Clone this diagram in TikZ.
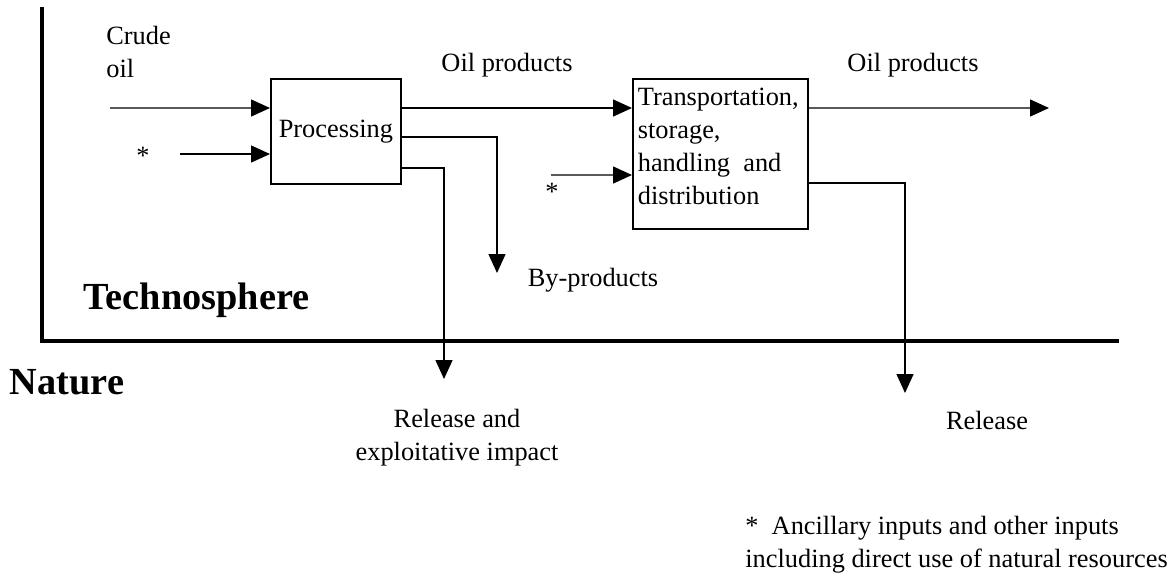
\documentclass[tikz,border=0pt]{standalone}
\usepackage{fontspec}
\setmainfont{Liberation Serif}
\usetikzlibrary{arrows.meta, positioning, calc}

\begin{document}
\begin{tikzpicture}[
  font=\fontsize{15}{18.8}\selectfont,
  box/.style    ={draw, line width=1pt, inner sep=0pt},
  lbl/.style    ={inner sep=0pt},
  region/.style ={inner sep=0pt, font=\fontsize{21.8}{25}\selectfont\bfseries},
  flow/.style   ={-{Triangle[length=0.38cm, width=0.34cm]}, line width=0.8pt},
  border/.style ={line width=2.4pt},
]
\useasboundingbox (0,0) rectangle (23.48,-11.54);

% ----- Technosphere / nature border -----
\coordinate (techTop)    at (0.84,-0.14);
\coordinate (techCorner) at (0.84,-6.82);
\coordinate (techEnd)    at (22.38,-6.82);
\draw[border] (techTop) -- (techCorner) -- (techEnd);

\node[region] (TECH)   at (3.93,-6.0)  {Technosphere};
\node[region] (NATURE) at (1.34,-7.64) {Nature};

% ----- Process boxes -----
\node[box, anchor=north west, minimum width=2.6cm, minimum height=2.1cm] (PROC)
  at (5.4,-1.56) {Processing};

\node[box, anchor=north west, minimum width=3.5cm, minimum height=3.0cm] (TRANS)
  at (12.64,-1.56) {};
\node[anchor=north west, align=left, inner xsep=0.11cm, inner ysep=0.2cm] (TRANStxt)
  at (TRANS.north west)
  {Transportation,\\storage,\\handling\ \ and\\distribution};

% ----- Inputs -----
\node[lbl, align=left, anchor=west] (CRUDE) at (2.12,-1.04) {Crude\\oil};
\coordinate (crudeIn) at (2.2,-2.16);
\draw[flow] (crudeIn) -- ($(PROC.north west)+(0,-0.6)$);

\node[lbl, anchor=base] (STARa) at (2.86,-3.28) {*};
\coordinate (starInA) at (3.6,-3.08);
\draw[flow] (starInA) -- ($(PROC.north west)+(0,-1.52)$);

\node[lbl, anchor=base] (STARb) at (11.04,-4.0) {*};
\coordinate (starInB) at (11.02,-3.5);
\draw[flow] (starInB) -- ($(TRANS.north west)+(0,-1.94)$);

% ----- Main product flow -----
\draw[flow] ($(PROC.north east)+(0,-0.6)$) -- ($(TRANS.north west)+(0,-0.6)$);
\node[lbl] (OILa) at (10.14,-1.3) {Oil products};

\coordinate (oilEnd) at (20.98,-2.16);
\draw[flow] ($(TRANS.north east)+(0,-0.6)$) -- (oilEnd);
\node[lbl] (OILb) at (18.26,-1.3) {Oil products};

% ----- By-products and releases -----
\coordinate (byDown) at (9.94,-5.46);
\draw[flow] ($(PROC.north east)+(0,-1.18)$) -| (byDown);
\node[lbl] (BYPROD) at (11.86,-5.6) {By-products};

\coordinate (relDownA) at (8.88,-7.58);
\draw[flow] ($(PROC.north east)+(0,-1.8)$) -| (relDownA);
\node[lbl, align=center] (RELa) at (9.14,-8.76) {Release and\\exploitative impact};

\coordinate (relDownB) at (18.1,-7.86);
\draw[flow] ($(TRANS.north east)+(0,-2.1)$) -| (relDownB);
\node[lbl] (RELb) at (19.74,-8.4) {Release};

% ----- Footnote -----
\node[lbl, align=left, anchor=west] (NOTE) at (14.9,-10.9)
  {*\ \ Ancillary inputs and other inputs\\including direct use of natural resources};

\end{tikzpicture}
\end{document}
